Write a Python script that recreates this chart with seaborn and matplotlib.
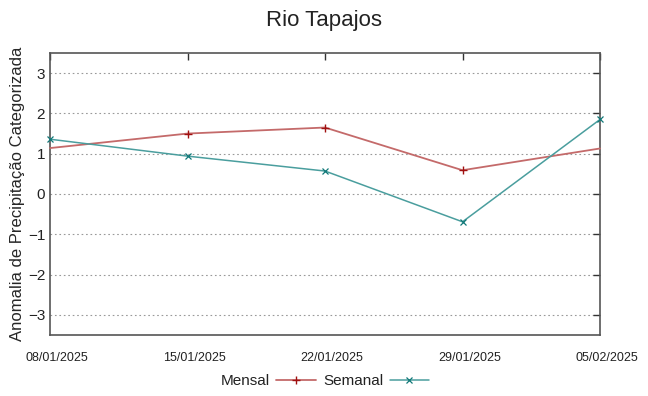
import pandas as pd
import matplotlib
matplotlib.use("Agg")
import matplotlib.pyplot as plt
import matplotlib.dates as mdates
import matplotlib.transforms as mtransforms
import seaborn as sns

# Data
dates = ["08/01/2025", "15/01/2025", "22/01/2025", "29/01/2025", "05/02/2025"]
mensal = [1.14, 1.50, 1.65, 0.59, 1.13]
semanal = [1.36, 0.94, 0.57, -0.69, 1.85]

sns.set_style("white")
plt.rcParams['font.family'] = ['Liberation Sans Narrow', 'Liberation Sans', 'DejaVu Sans']
plt.rcParams['text.color'] = '#222222'

x = pd.to_datetime(dates, format="%d/%m/%Y")
df = pd.DataFrame({"Data": x, "Mensal": mensal, "Semanal": semanal})

fig = plt.figure(figsize=(6.48, 3.96), dpi=100)
ax = fig.add_axes([50 / 648, 1 - 335 / 396, 550 / 648, 282 / 396])

sns.lineplot(data=df, x="Data", y="Mensal", ax=ax, color="#c46a6a", lw=1.3,
             marker="+", markersize=6, markeredgecolor="#a01010",
             markeredgewidth=1.0, markevery=[1, 2, 3], label="Mensal")
sns.lineplot(data=df, x="Data", y="Semanal", ax=ax, color="#4a9e9e", lw=1.1,
             marker="x", markersize=5, markeredgecolor="#107878",
             markeredgewidth=0.9, label="Semanal")
for ln in ax.lines:
    ln.set_clip_on(False)
    ln.set_zorder(3)

ax.set_xlim(x[0], x[-1])
ax.set_ylim(-3.5, 3.5)
ax.set_xticks(x)
ax.xaxis.set_major_formatter(mdates.DateFormatter("%d/%m/%Y"))
ax.set_yticks([-3, -2, -1, 0, 1, 2, 3])
ax.tick_params(axis="both", direction="in", length=5, width=1, color="#333333",
               top=True, right=True, labelsize=11, labelcolor="#222222")
ax.tick_params(axis="x", labelsize=9, pad=12)
ax.yaxis.grid(True, linestyle=(0, (1.5, 2.5)), color="#999999", lw=0.8)
for s in ax.spines.values():
    s.set_color("#555555")
    s.set_linewidth(1.2)

# gnuplot-like slight right shift of the date labels
shift = mtransforms.ScaledTranslation(7 / 100, 0, fig.dpi_scale_trans)
for lab in ax.get_xticklabels():
    lab.set_transform(lab.get_transform() + shift)

ax.set_xlabel("")
ax.set_ylabel("Anomalia de Precipitação Categorizada", fontsize=12, labelpad=2)
fig.suptitle("Rio Tapajos", fontsize=16, y=0.975)

leg = ax.legend(loc="upper center", bbox_to_anchor=(0.5, -0.1), ncol=2,
                frameon=False, fontsize=11, markerfirst=False, handlelength=2.6,
                columnspacing=0.5, handletextpad=0.4, borderpad=0.2)

fig.savefig("out.png", dpi=100)
